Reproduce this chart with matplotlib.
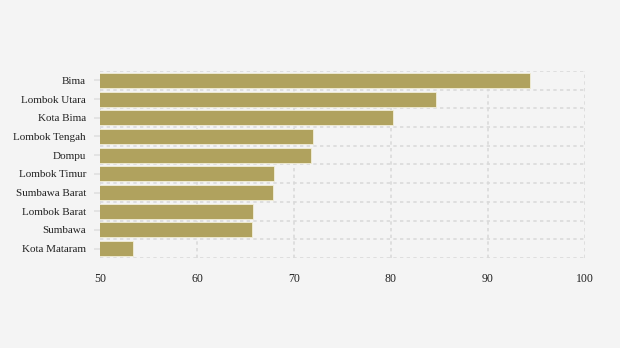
import matplotlib.pyplot as plt
import numpy as np

regions = ['Bima', 'Lombok Utara', 'Kota Bima', 'Lombok Tengah', 'Dompu',
           'Lombok Timur', 'Sumbawa Barat', 'Lombok Barat', 'Sumbawa', 'Kota Mataram']
values = [94.3, 84.7, 80.2, 72.0, 71.8, 67.9, 67.8, 65.8, 65.7, 53.4]
xticks = [50, 60, 70, 80, 90, 100]

plt.rcParams['font.family'] = ['Liberation Serif', 'DejaVu Serif']

fig = plt.figure(figsize=(6.2, 3.48), dpi=100, facecolor='#f4f4f4')
ax = fig.add_axes([0.1613, 0.2586, 0.782, 0.5374])
ax.set_facecolor('#f4f4f4')

y = np.arange(len(regions))
ax.barh(y, values, height=0.8, color='#b0a25e', edgecolor='#f2eed8', linewidth=0.6, zorder=3)

ax.set_xlim(50, 100)
ax.set_ylim(len(regions) - 0.5, -0.5)
ax.set_xticks(xticks)
ax.set_xticklabels([str(t) for t in xticks])
ax.set_yticks(y)
ax.set_yticklabels(regions)

# grid lines sit on the band edges for y
ax.set_yticks(np.arange(len(regions) + 1) - 0.5, minor=True)
ax.grid(axis='x', which='major', color='#dadada', linestyle=(0, (2, 2)), linewidth=1.2, zorder=1)
ax.grid(axis='y', which='minor', color='#dadada', linestyle=(0, (2, 2)), linewidth=1.2, zorder=1)
ax.tick_params(axis='y', which='minor', length=0)
ax.tick_params(axis='y', which='major', length=4, color='#e0e0e0', width=1.2, pad=6,
               labelsize=8, labelcolor='#222222')
ax.tick_params(axis='x', length=0, pad=11, labelsize=8.5, labelcolor='#222222')

for s in ax.spines.values():
    s.set_visible(False)

fig.savefig('out.png', dpi=100, facecolor=fig.get_facecolor())
